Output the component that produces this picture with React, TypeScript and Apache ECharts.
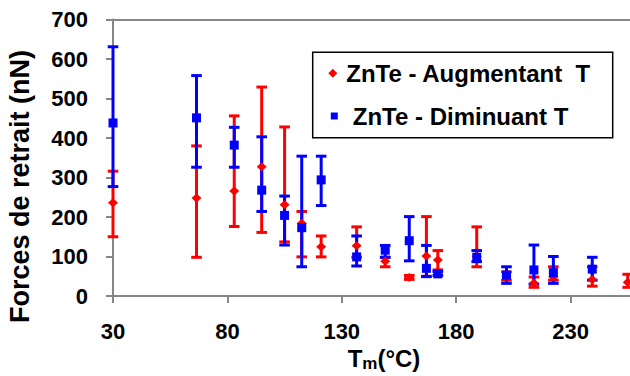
import React, { useEffect, useRef } from "react";
import * as echarts from "echarts";

// Temperatures (°C) and retraction forces (nN)
const tempsA = [30, 66.5, 83, 95, 105, 112.5, 121, 136.5, 149, 159.5, 167, 172, 189, 202, 214, 222.5, 239.5, 255];
const forceA = [236, 248, 266, 327, 231, 184, 125, 127, 88, 47, 101, 91, 100, 50, 33, 48, 42, 35];
const lowA = [150, 98, 176, 161, 137, 99, 99, 98, 74, 42, 50, 66, 74, 40, 22, 40, 25, 22];
const highA = [316, 380, 456, 529, 428, 214, 152, 175, 98, 52, 201, 115, 175, 61, 48, 74, 74, 55];

const tempsB = [30, 66.5, 83, 95, 105, 112.5, 121, 136.5, 149, 159.5, 167, 172, 189, 202, 214, 222.5, 239.5];
const forceB = [438, 451, 382, 268, 204, 173, 294, 99, 116, 140, 70, 56, 98, 53, 66, 59, 68];
const lowB = [277, 326, 326, 214, 129, 74, 229, 76, 98, 89, 49, 52, 87, 32, 30, 32, 40];
const highB = [631, 558, 427, 403, 253, 354, 354, 152, 128, 201, 128, 62, 115, 74, 129, 100, 98];

const nameA = "ZnTe - Augmentant  T";
const nameB = "ZnTe - Diminuant T";
const xTitle = "T";
const xTitleSub = "m";
const xTitleUnit = "(°C)";
const yTitle = "Forces de retrait (nN)";

const RED = "#FF0000";
const BLUE = "#0000FF";
const AXIS = "#868686";
const FONT = "'Liberation Sans', Arial, Helvetica, sans-serif";

function errorBars(color: string) {
  return (params: any, api: any) => {
    const x = api.value(0);
    const lo = api.value(1);
    const hi = api.value(2);
    const pHi = api.coord([x, hi]);
    const pLo = api.coord([x, lo]);
    const half = 5.3;
    const style = { stroke: color, lineWidth: 3, fill: null };
    return {
      type: "group",
      children: [
        { type: "line", shape: { x1: pHi[0], y1: pHi[1], x2: pLo[0], y2: pLo[1] }, style },
        { type: "line", shape: { x1: pHi[0] - half, y1: pHi[1], x2: pHi[0] + half, y2: pHi[1] }, style },
        { type: "line", shape: { x1: pLo[0] - half, y1: pLo[1], x2: pLo[0] + half, y2: pLo[1] }, style },
      ],
    };
  };
}

export default function App() {
  const ref = useRef<HTMLDivElement>(null);
  useEffect(() => {
    document.body.style.margin = "0";
    if (!ref.current) return;
    const chart = echarts.init(ref.current, null, { renderer: "svg" });
    const axisLabel = { color: "#000", fontFamily: FONT, fontWeight: "bold", fontSize: 22 };
    chart.setOption({
      animation: false,
      backgroundColor: "#fff",
      grid: { left: 113, top: 19.5, right: 0, bottom: 80, containLabel: false, outerBoundsMode: "none" },
      xAxis: [
        {
          type: "value",
          min: 30,
          max: 256,
          interval: 50,
          axisLine: { onZero: false, lineStyle: { color: AXIS, width: 2 } },
          axisTick: { length: 7, lineStyle: { color: AXIS, width: 2 } },
          axisLabel: { ...axisLabel, margin: 24, showMaxLabel: false },
          splitLine: { show: false },
        },
        {
          type: "value",
          position: "top",
          min: 30,
          max: 256,
          interval: 50,
          axisLine: { onZero: false, lineStyle: { color: AXIS, width: 2 } },
          axisTick: { show: false },
          axisLabel: { show: false },
          splitLine: { show: false },
        },
      ],
      yAxis: {
        type: "value",
        min: 0,
        max: 700,
        interval: 100,
        axisLine: { show: true, onZero: false, lineStyle: { color: AXIS, width: 2 } },
        axisTick: { show: true, length: 7, lineStyle: { color: AXIS, width: 2 } },
        axisLabel: { ...axisLabel, margin: 25 },
        splitLine: { show: false },
      },
      legend: [
        {
          data: [nameA],
          left: 328.3,
          top: 59.3,
          padding: 0,
          itemWidth: 9,
          itemHeight: 9,
          selectedMode: false,
          textStyle: { color: "#000", fontFamily: FONT, fontWeight: "bold", fontSize: 24, lineHeight: 28, padding: [0, 0, 0, 4] },
        },
        {
          data: [nameB],
          left: 330.8,
          top: 102,
          padding: 0,
          itemWidth: 7,
          itemHeight: 7,
          selectedMode: false,
          textStyle: { color: "#000", fontFamily: FONT, fontWeight: "bold", fontSize: 24, lineHeight: 28, padding: [0, 0, 0, 10] },
        },
      ],
      graphic: [
        {
          type: "rect",
          z: 1,
          shape: { x: 312.7, y: 52.3, width: 300, height: 85.4 },
          style: { fill: "#fff", stroke: "#000", lineWidth: 1.5 },
        },
        {
          type: "text",
          x: 20,
          y: 186.5,
          rotation: Math.PI / 2,
          style: {
            text: yTitle,
            fill: "#000",
            font: `bold 27px ${FONT}`,
            align: "center",
            verticalAlign: "middle",
          },
        },
        {
          type: "text",
          x: 384,
          y: 358,
          style: {
            text: `{a|${xTitle}}{b|${xTitleSub}}{a|${xTitleUnit}}`,
            align: "center",
            verticalAlign: "middle",
            rich: {
              a: { fill: "#000", fontFamily: FONT, fontWeight: "bold", fontSize: 24, lineHeight: 28, verticalAlign: "middle" },
              b: { fill: "#000", fontFamily: FONT, fontWeight: "bold", fontSize: 17, lineHeight: 17, verticalAlign: "bottom" },
            },
          },
        },
      ],
      series: [
        {
          name: "Erreur A",
          type: "custom",
          renderItem: errorBars(RED),
          encode: { x: 0, y: [1, 2] },
          data: tempsA.map((t, i) => [t, lowA[i], highA[i]]),
          z: 2,
        },
        {
          name: "Erreur B",
          type: "custom",
          renderItem: errorBars(BLUE),
          encode: { x: 0, y: [1, 2] },
          data: tempsB.map((t, i) => [t, lowB[i], highB[i]]),
          z: 2,
        },
        {
          name: nameA,
          type: "scatter",
          symbol: "diamond",
          symbolSize: [10, 9],
          itemStyle: { color: RED, opacity: 1 },
          data: tempsA.map((t, i) => [t, forceA[i]]),
          z: 3,
        },
        {
          name: nameB,
          type: "scatter",
          symbol: "rect",
          symbolSize: 9,
          itemStyle: { color: BLUE, opacity: 1 },
          data: tempsB.map((t, i) => [t, forceB[i]]),
          z: 3,
        },
      ],
    });
    return () => chart.dispose();
  }, []);
  return <div ref={ref} style={{ width: 630, height: 376 }} />;
}
